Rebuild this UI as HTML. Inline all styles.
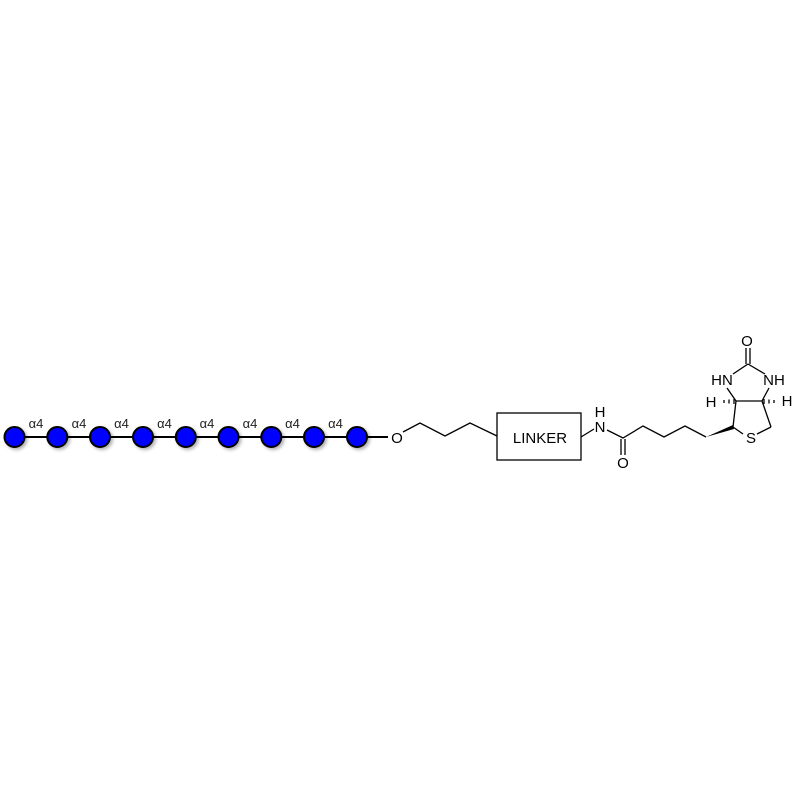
<!DOCTYPE html>
<html><head><style>body{margin:0;background:#fff}svg{display:block}</style></head>
<body>
<svg width="800" height="800" viewBox="0 0 800 800" xmlns="http://www.w3.org/2000/svg">
<defs><filter id="sh" x="-50%" y="-50%" width="200%" height="200%"><feDropShadow dx="2" dy="2" stdDeviation="1.5" flood-color="#000" flood-opacity="0.3"/></filter></defs>
<g stroke="#000" stroke-width="2"><line x1="14.5" y1="437" x2="388" y2="437"/></g>
<g fill="#0000ff" stroke="#000" stroke-width="2" filter="url(#sh)">
<circle cx="14.5" cy="437" r="10"/><circle cx="57.3" cy="437" r="10"/><circle cx="100" cy="437" r="10"/>
<circle cx="143" cy="437" r="10"/><circle cx="185.8" cy="437" r="10"/><circle cx="228.5" cy="437" r="10"/>
<circle cx="271.3" cy="437" r="10"/><circle cx="314" cy="437" r="10"/><circle cx="357" cy="437" r="10"/>
</g>
<g font-family="Liberation Sans, sans-serif" font-size="13" fill="#222" text-anchor="middle">
<text x="36" y="428">α4</text><text x="79" y="428">α4</text><text x="121.5" y="428">α4</text>
<text x="164.5" y="428">α4</text><text x="207" y="428">α4</text><text x="250" y="428">α4</text>
<text x="292.5" y="428">α4</text><text x="335.5" y="428">α4</text>
</g>
<g fill="none" stroke="#000" stroke-width="1.3">
<polyline points="403,432 420,423 445,436 470,423 497,436"/>
<rect x="497" y="413" width="84" height="47"/>
<polyline points="581,437 594,429"/>
<polyline points="607,430 623,438 643,426 664,437 685,426 706,437"/>
<line x1="621" y1="439" x2="621" y2="455"/><line x1="625" y1="439" x2="625" y2="455"/>
<line x1="733" y1="427" x2="743" y2="434"/>
<line x1="757" y1="434" x2="771" y2="427"/>
<line x1="771" y1="427" x2="762" y2="401"/>
<line x1="762" y1="401" x2="736" y2="401"/>
<line x1="736" y1="401" x2="733" y2="427"/>
<line x1="736" y1="401" x2="727" y2="388"/>
<line x1="762" y1="401" x2="769" y2="388"/>
<line x1="733" y1="374" x2="748" y2="364"/>
<line x1="748" y1="364" x2="765" y2="374"/>
<line x1="746" y1="364" x2="746" y2="348"/><line x1="750" y1="364" x2="750" y2="348"/>
</g>
<polygon points="706,437 733,425 734,429" fill="#000"/>
<g stroke="#000" stroke-width="1.3">
<line x1="734" y1="399" x2="734" y2="404"/><line x1="729" y1="399.5" x2="729" y2="403.5"/><line x1="724" y1="400" x2="724" y2="403"/>
<line x1="764" y1="399" x2="764" y2="404"/><line x1="769" y1="399.5" x2="769" y2="403.5"/><line x1="774" y1="400" x2="774" y2="403"/>
</g>
<g font-family="Liberation Sans, sans-serif" font-size="15" fill="#000" text-anchor="middle">
<text x="397" y="443">O</text>
<text x="540" y="443" font-size="15">LINKER</text>
<text x="600" y="432">N</text><text x="600" y="417">H</text>
<text x="623" y="468">O</text>
<text x="751" y="443">S</text>
<text x="722" y="385">HN</text>
<text x="774" y="385">NH</text>
<text x="747" y="346">O</text>
<text x="711" y="407">H</text>
<text x="787" y="406">H</text>
</g>
</svg>
</body></html>
